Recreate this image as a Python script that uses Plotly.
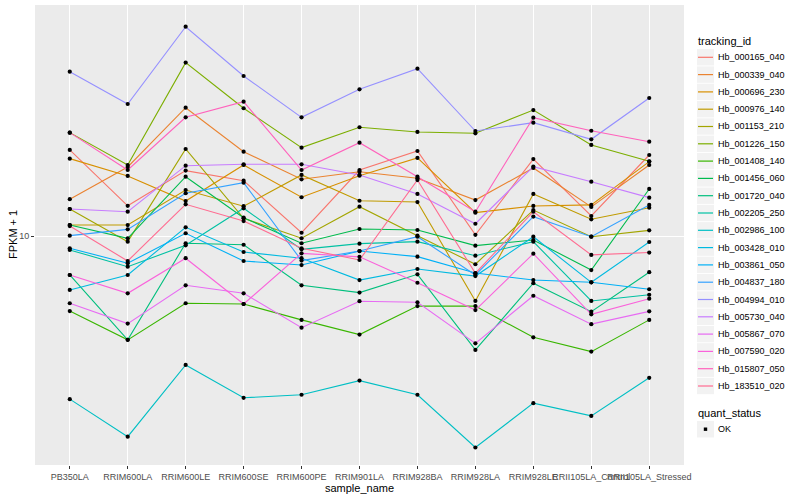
import plotly.graph_objects as go

# ---------------- data ----------------
samples = ["PB350LA", "RRIM600LA", "RRIM600LE", "RRIM600SE", "RRIM600PE", "RRIM901LA",
           "RRIM928BA", "RRIM928LA", "RRIM928LE", "RRII105LA_Control", "RRII105LA_Stressed"]

tracking_ids = ["Hb_000165_040", "Hb_000339_040", "Hb_000696_230", "Hb_000976_140", "Hb_001153_210",
                "Hb_001226_150", "Hb_001408_140", "Hb_001456_060", "Hb_001720_040", "Hb_002205_250",
                "Hb_002986_100", "Hb_003428_010", "Hb_003861_050", "Hb_004837_180", "Hb_004994_010",
                "Hb_005730_040", "Hb_005867_070", "Hb_007590_020", "Hb_015807_050", "Hb_183510_020"]

hb_000165_040 = [16.41, 11.90, 14.57, 13.75, 10.19, 14.62, 16.31, 10.07, 15.57, 11.22, 15.94]
hb_000339_040 = [12.36, 14.88, 20.93, 16.25, 13.86, 14.48, 13.94, 12.30, 14.79, 11.82, 15.05]
hb_000696_230 = [15.61, 14.13, 12.23, 15.05, 12.50, 14.15, 15.67, 11.44, 11.89, 11.96, 15.34]
hb_000976_140 = [10.65, 10.65, 13.03, 11.87, 14.21, 12.25, 12.16, 6.88, 12.74, 11.01, 11.77]
hb_001153_210 = [11.68, 9.68, 16.50, 11.07, 9.87, 11.84, 10.02, 8.50, 11.61, 9.96, 10.33]
hb_001226_150 = [18.13, 15.05, 27.13, 20.86, 16.63, 18.70, 18.20, 18.06, 20.65, 16.89, 15.37]
hb_001408_140 = [6.49, 5.50, 6.79, 6.76, 6.17, 5.67, 6.68, 6.68, 5.58, 5.14, 6.17]
hb_001456_060 = [10.65, 9.87, 14.07, 11.11, 9.59, 10.41, 10.35, 9.46, 9.77, 8.22, 13.11]
hb_001720_040 = [7.99, 5.50, 9.59, 9.51, 7.53, 7.22, 8.02, 5.19, 7.62, 6.47, 8.12]
hb_002205_250 = [9.23, 8.38, 9.48, 11.73, 9.26, 9.57, 9.68, 8.93, 9.68, 6.88, 7.13]
hb_002986_100 = [3.91, 3.15, 4.76, 3.94, 4.01, 4.35, 4.01, 2.96, 3.82, 3.55, 4.42]
hb_003428_010 = [7.33, 7.99, 10.51, 9.12, 8.80, 7.76, 8.27, 7.94, 9.96, 7.66, 9.66]
hb_003861_050 = [9.32, 8.55, 10.16, 8.66, 8.46, 9.17, 8.88, 8.08, 7.76, 7.66, 7.36]
hb_004837_180 = [10.02, 10.39, 12.79, 13.59, 8.68, 9.17, 9.96, 7.99, 11.18, 9.96, 11.96]
hb_004994_010 = [25.75, 21.38, 33.36, 25.12, 19.80, 23.27, 26.20, 18.30, 19.20, 17.45, 22.13]
hb_005730_040 = [11.68, 11.50, 14.99, 15.11, 15.11, 14.21, 12.74, 10.73, 14.91, 13.67, 12.47]
hb_005867_070 = [6.79, 6.04, 7.53, 7.19, 5.90, 6.87, 6.83, 5.39, 7.09, 6.02, 6.48]
hb_007590_020 = [7.99, 7.19, 8.80, 6.76, 9.05, 8.87, 7.64, 6.53, 9.03, 6.37, 6.97]
hb_015807_050 = [18.13, 14.62, 19.80, 21.67, 14.62, 17.11, 14.07, 11.50, 19.76, 18.33, 17.21]
hb_183510_020 = [10.59, 8.66, 12.00, 10.90, 9.32, 8.71, 13.80, 8.07, 11.50, 8.97, 9.09]

series_values = [hb_000165_040, hb_000339_040, hb_000696_230, hb_000976_140, hb_001153_210,
                 hb_001226_150, hb_001408_140, hb_001456_060, hb_001720_040, hb_002205_250,
                 hb_002986_100, hb_003428_010, hb_003861_050, hb_004837_180, hb_004994_010,
                 hb_005730_040, hb_005867_070, hb_007590_020, hb_015807_050, hb_183510_020]

quant_status = ["OK"]
y_tick_values = [10]
y_tick_labels = ["10"]

# ---------------- style ----------------
colors = ["#F8766D", "#EA8331", "#D89000", "#C09B00", "#A3A500", "#7CAE00", "#39B600",
          "#00BB4E", "#00BF7D", "#00C1A3", "#00BFC4", "#00BAE0", "#00B0F6", "#35A2FF",
          "#9590FF", "#C77CFF", "#E76BF3", "#FA62DB", "#FF62BC", "#FF6C91"]
FONT = "Liberation Sans, Arial, Helvetica, sans-serif"

W, H = 800, 500
ML, MR, MT, MB = 35, 116, 5, 35
PW, PH = W - ML - MR, H - MT - MB


def pxx(px):
    return (px - ML) / PW


def pxy(py):
    return (H - MB - py) / PH


fig = go.Figure()

for name, vals, col in zip(tracking_ids, series_values, colors):
    fig.add_trace(go.Scatter(x=samples, y=vals, mode="lines", name=name,
                             line=dict(color=col, width=1.1), showlegend=False,
                             hoverinfo="skip"))

all_x = [s for vals in series_values for s in samples]
all_y = [v for vals in series_values for v in vals]
fig.add_trace(go.Scatter(x=all_x, y=all_y, mode="markers", name=quant_status[0],
                         marker=dict(color="black", size=4.2), showlegend=False))

# ---------------- manual ggplot-like legend ----------------
shapes = []
annotations = []
annotations.append(dict(x=pxx(696), y=pxy(40.5), xref="paper", yref="paper", text="tracking_id",
                        showarrow=False, xanchor="left", yanchor="middle",
                        font=dict(family=FONT, size=11, color="black")))
step = 17.3
for i, (name, col) in enumerate(zip(tracking_ids, colors)):
    cy = 57.3 + i * step
    shapes.append(dict(type="rect", xref="paper", yref="paper",
                       x0=pxx(697), x1=pxx(714), y0=pxy(cy + 8.2), y1=pxy(cy - 8.2),
                       fillcolor="#F2F2F2", line=dict(width=0), layer="below"))
    shapes.append(dict(type="line", xref="paper", yref="paper",
                       x0=pxx(698), x1=pxx(713), y0=pxy(cy), y1=pxy(cy),
                       line=dict(color=col, width=1.2)))
    annotations.append(dict(x=pxx(716), y=pxy(cy), xref="paper", yref="paper", text=name,
                            showarrow=False, xanchor="left", yanchor="middle",
                            font=dict(family=FONT, size=9, color="black")))

annotations.append(dict(x=pxx(696), y=pxy(412.5), xref="paper", yref="paper", text="quant_status",
                        showarrow=False, xanchor="left", yanchor="middle",
                        font=dict(family=FONT, size=11, color="black")))
shapes.append(dict(type="rect", xref="paper", yref="paper",
                   x0=pxx(697), x1=pxx(714), y0=pxy(437.5), y1=pxy(421),
                   fillcolor="#F2F2F2", line=dict(width=0), layer="below"))
shapes.append(dict(type="rect", xref="paper", yref="paper",
                   x0=pxx(703.8), x1=pxx(707.2), y0=pxy(430.9), y1=pxy(427.5),
                   fillcolor="black", line=dict(width=0)))
annotations.append(dict(x=pxx(716), y=pxy(429), xref="paper", yref="paper", text=quant_status[0],
                        showarrow=False, xanchor="left", yanchor="middle",
                        font=dict(family=FONT, size=9, color="black")))

# y-axis title placed like ggplot's
annotations.append(dict(x=pxx(13), y=pxy(235), xref="paper", yref="paper", text="FPKM + 1",
                        showarrow=False, xanchor="center", yanchor="middle", textangle=-90,
                        font=dict(family=FONT, size=11, color="black")))

fig.update_layout(
    width=W, height=H,
    margin=dict(l=ML, r=MR, t=MT, b=MB, autoexpand=False),
    paper_bgcolor="white", plot_bgcolor="#EBEBEB",
    font=dict(family=FONT, size=9, color="#4D4D4D"),
    shapes=shapes, annotations=annotations,
    showlegend=False,
)
fig.update_xaxes(
    type="category", range=[-0.6, len(samples) - 0.4],
    showgrid=True, gridcolor="white", gridwidth=1.1,
    ticks="outside", ticklen=3, tickcolor="#333333", tickwidth=1,
    tickfont=dict(family=FONT, size=9, color="#4D4D4D"),
    showline=False, zeroline=False, tickangle=0,
    title=dict(text="sample_name", font=dict(family=FONT, size=11, color="black"), standoff=1),
    automargin=False,
)
fig.update_yaxes(
    type="log", range=[0.4275, 1.5775],
    tickvals=y_tick_values, ticktext=y_tick_labels,
    showgrid=True, gridcolor="white", gridwidth=1.1,
    ticks="outside", ticklen=3, tickcolor="#333333", tickwidth=1,
    tickfont=dict(family=FONT, size=9, color="#4D4D4D"),
    showline=False, zeroline=False,
    automargin=False,
)

fig.write_html("out.html", config={"displayModeBar": False},
               post_script="document.body.style.margin='0';")
